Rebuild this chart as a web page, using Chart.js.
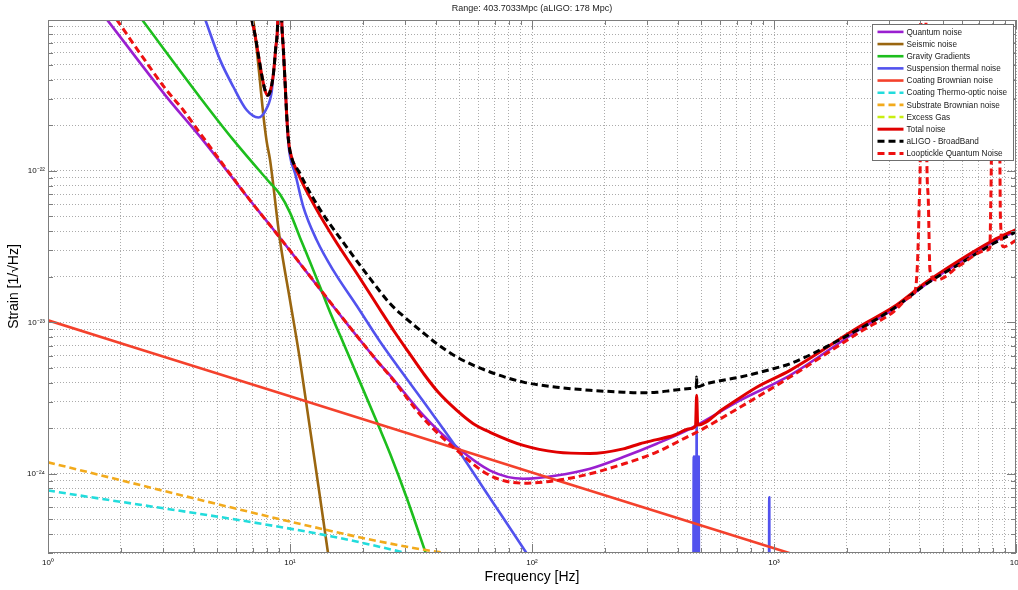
<!DOCTYPE html>
<html>
<head>
<meta charset="utf-8">
<title>Strain noise budget</title>
<script src="https://cdn.jsdelivr.net/npm/chart.js@4/dist/chart.umd.min.js"></script>
<style>
  html, body { margin: 0; padding: 0; background: #ffffff; }
  canvas { display: block; }
</style>
</head>
<body>
<canvas id="noise" width="1018" height="590"></canvas>
<script>
// ---------------- noise curves: [frequency (Hz), strain (1/sqrt(Hz))] ----------------
const quantumNoise = [
  [1.75, 1.0e-21], [3.09, 3.08e-22], [4.25, 1.68e-22], [6.83, 6.4e-23], [8.27, 4.37e-23],
  [22.8, 5.61e-24], [25.9, 4.47e-24], [35.6, 2.43e-24], [48.9, 1.50e-24], [67.1, 1.05e-24],
  [92.1, 9.27e-25], [126.5, 9.75e-25], [173.7, 1.08e-24], [238.4, 1.29e-24], [327.5, 1.58e-24],
  [449.6, 1.98e-24], [723.5, 3.05e-24], [1165, 4.47e-24], [2266, 9.0e-24], [3112, 1.22e-23],
  [4276, 1.80e-23], [5869, 2.50e-23], [8058, 3.40e-23], [10000, 4.00e-23]
];

const seismicNoise = [
  [7.05, 1.0e-21], [7.28, 6.44e-22], [7.52, 3.87e-22], [7.76, 2.33e-22], [8.01, 1.56e-22],
  [8.27, 1.18e-22], [9.09, 3.48e-23], [10.0, 1.40e-23], [11.0, 5.61e-24], [14.4, 2.9e-25]
];

const gravityGradients = [
  [2.44, 1.0e-21], [4.25, 3.05e-22], [5.83, 1.60e-22], [8.12, 8.6e-23], [9.09, 7.0e-23],
  [10.0, 5.3e-23], [11.0, 3.62e-23], [12.1, 2.50e-23], [13.3, 1.72e-23], [14.6, 1.18e-23],
  [16.1, 8.2e-24], [18.0, 5.4e-24], [23.5, 1.98e-24], [25.9, 1.36e-24], [30.4, 6.9e-25],
  [36.7, 2.88e-25]
];

const suspensionThermal = [
  [4.46, 1.0e-21], [5.14, 5.40e-22], [5.83, 3.59e-22], [6.62, 2.52e-22], [7.40, 2.25e-22],
  [8.01, 2.59e-22], [8.40, 3.33e-22], [8.53, 4.30e-22], [8.73, 6.47e-22], [8.90, 1.0e-21],
  [9.05, 5.0e-21], [9.24, 1.0e-21], [9.38, 6.47e-22], [9.54, 3.87e-22], [9.69, 2.33e-22],
  [9.84, 1.56e-22], [10.0, 1.25e-22], [10.5, 9.6e-23], [11.35, 5.78e-23], [12.9, 3.48e-23],
  [15.1, 2.2e-23], [18.9, 1.28e-23], [23.5, 7.5e-24], [35.6, 3.0e-24], [48.9, 1.48e-24],
  [61.0, 8.7e-25], [76.1, 5.1e-25], [96.5, 2.88e-25], [150, 1.0e-25], [300, 2.2e-26],
  // violin modes
  [463, 1.5e-26], [466, 1.3e-24], [468.5, 1.5e-26], [471, 1.3e-24], [473.5, 1.5e-26],
  [476, 1.3e-24], [477.5, 1.5e-26], [479, 2.2e-24], [481, 1.5e-26], [483.5, 1.3e-24],
  [486, 1.5e-26], [488.5, 1.3e-24], [491, 1.5e-26],
  [800, 6e-27], [950, 4e-27], [956, 7.0e-25], [962, 4e-27], [1200, 3e-27]
];

const coatingBrownian = [
  [1, 1.03e-23], [10, 3.25e-24], [100, 1.02e-24], [1000, 3.22e-25], [1300, 2.83e-25]
];

const coatingThermoOptic = [
  [1, 7.76e-25], [14.9, 3.86e-25], [34.7, 2.85e-25]
];

const substrateBrownian = [
  [1, 1.19e-24], [14.9, 4.18e-25], [31.3, 3.27e-25], [53.9, 2.85e-25]
];

const excessGas = [];

const totalNoise = [
  [6.95, 1.0e-21], [7.17, 7.89e-22], [7.40, 5.82e-22], [7.64, 4.30e-22], [7.88, 3.41e-22],
  [8.06, 3.16e-22], [8.27, 3.33e-22], [8.53, 4.30e-22], [8.73, 6.47e-22], [8.90, 1.0e-21],
  [9.05, 5.0e-21], [9.24, 1.0e-21], [9.38, 6.47e-22], [9.54, 3.87e-22], [9.69, 2.33e-22],
  [9.84, 1.64e-22], [10.0, 1.35e-22], [10.8, 9.6e-23], [12.7, 5.78e-23], [15.35, 3.48e-23],
  [18.9, 2.10e-23], [23.5, 1.22e-23], [27.1, 8.6e-24], [31.0, 6.3e-24], [35.6, 4.6e-24],
  [41.0, 3.45e-24], [48.9, 2.62e-24], [57.0, 2.15e-24], [67.1, 1.88e-24], [92.1, 1.54e-24],
  [126.5, 1.39e-24], [173.7, 1.36e-24], [238.4, 1.46e-24], [279.4, 1.58e-24], [327.5, 1.68e-24],
  [383.7, 1.79e-24], [449.6, 1.98e-24], [474, 2.07e-24], [479, 3.3e-24], [484, 2.1e-24],
  [617.4, 2.69e-24], [848.3, 3.73e-24], [1165, 4.82e-24], [2266, 9.42e-24], [3112, 1.26e-23],
  [4276, 1.85e-23], [5869, 2.58e-23], [8058, 3.48e-23], [10000, 4.1e-23]
];

const aligoBroadBand = [
  [6.95, 1.0e-21], [7.17, 7.89e-22], [7.40, 5.82e-22], [7.64, 4.30e-22], [7.88, 3.41e-22],
  [8.06, 3.16e-22], [8.27, 3.33e-22], [8.53, 4.30e-22], [8.73, 6.47e-22], [8.90, 1.0e-21],
  [9.05, 5.0e-21], [9.24, 1.0e-21], [9.38, 6.47e-22], [9.54, 3.87e-22], [9.69, 2.33e-22],
  [9.84, 1.64e-22], [10.0, 1.35e-22], [11.0, 9.6e-23], [13.1, 5.78e-23], [16.35, 3.48e-23],
  [21.4, 1.95e-23], [25.9, 1.33e-23], [29.4, 1.1e-23], [35.6, 8.5e-24], [40.4, 7.23e-24],
  [48.9, 5.9e-24], [67.1, 4.70e-24], [92.1, 4.03e-24], [126.5, 3.73e-24], [173.7, 3.56e-24],
  [238.4, 3.46e-24], [279.4, 3.43e-24], [327.5, 3.45e-24], [383.7, 3.56e-24], [449.6, 3.65e-24],
  [477.5, 3.73e-24], [479, 4.35e-24], [480.5, 3.75e-24], [527, 3.94e-24], [723.5, 4.35e-24],
  [993, 4.94e-24], [1165, 5.33e-24], [2266, 9.08e-24], [3112, 1.23e-23], [4276, 1.80e-23],
  [5869, 2.44e-23], [8058, 3.31e-23], [10000, 3.95e-23]
];

const looptickleQuantum = [
  [1.92, 1.0e-21], [2.40, 5.97e-22], [3.09, 3.41e-22], [3.62, 2.52e-22], [4.25, 1.77e-22],
  [6.83, 6.4e-23], [8.27, 4.37e-23], [22.8, 5.61e-24], [25.9, 4.42e-24], [35.6, 2.32e-24],
  [48.9, 1.43e-24], [67.1, 9.75e-25], [92.1, 8.67e-25], [126.5, 9.04e-25], [173.7, 1.0e-24],
  [238.4, 1.16e-24], [327.5, 1.39e-24], [449.6, 1.79e-24], [479, 1.88e-24], [723.5, 2.75e-24],
  [1165, 4.35e-24], [2266, 8.63e-24], [3112, 1.17e-23], [3648, 1.47e-23], [3763, 1.51e-23],
  [3910, 2.32e-23], [3985, 6.4e-23], [4023, 1.37e-22], [4045, 1.0e-21], [4060, 2.0e-21],
  [4230, 2.0e-21], [4245, 1.0e-21], [4276, 1.37e-22], [4341, 6.4e-23], [4411, 2.2e-23],
  [4702, 1.9e-23], [5869, 2.38e-23], [7568, 2.99e-23], [7800, 3.1e-23], [7850, 5.0e-23],
  [7930, 2.0e-22], [7950, 5.0e-22], [8500, 5.0e-22], [8560, 2.0e-22], [8620, 5.0e-23],
  [8861, 3.15e-23], [10000, 3.48e-23]
];

// ---------------- axes ----------------
const xRange = [1, 1e4];
const yRange = [3e-25, 9.9e-22];
const xLabelValues = [1, 10, 100, 1000, 10000];
const xLabels = ['10\u2070', '10\u00B9', '10\u00B2', '10\u00B3', '10\u2074'];
const yLabelValues = [1e-24, 1e-23, 1e-22];
const yLabels = ['10\u207B\u00B2\u2074', '10\u207B\u00B2\u00B3', '10\u207B\u00B2\u00B2'];

const titleText = 'Range: 403.7033Mpc (aLIGO: 178 Mpc)';
const xTitle = 'Frequency [Hz]';
const yTitle = 'Strain [1/\u221AHz]';

// ---------------- styles ----------------
const FONT = '"Liberation Sans", Arial, Helvetica, sans-serif';
const AXIS_COLOR = '#7d7d7d';
const GRID_COLOR = '#ababab';
const DASH = [7, 4];

const series = [
  { label: 'Quantum noise',              data: quantumNoise,       color: '#9a1fd0', width: 2.6, dash: [] },
  { label: 'Seismic noise',              data: seismicNoise,       color: '#9a6610', width: 2.6, dash: [] },
  { label: 'Gravity Gradients',          data: gravityGradients,   color: '#1dbe1d', width: 2.6, dash: [] },
  { label: 'Suspension thermal noise',   data: suspensionThermal,  color: '#5252ee', width: 2.6, dash: [] },
  { label: 'Coating Brownian noise',     data: coatingBrownian,    color: '#f4412c', width: 2.6, dash: [] },
  { label: 'Coating Thermo-optic noise', data: coatingThermoOptic, color: '#22dcdc', width: 2.6, dash: DASH },
  { label: 'Substrate Brownian noise',   data: substrateBrownian,  color: '#f2aa1c', width: 2.6, dash: DASH },
  { label: 'Excess Gas',                 data: excessGas,          color: '#c8ee10', width: 2.6, dash: DASH },
  { label: 'Total noise',                data: totalNoise,         color: '#e00000', width: 3,   dash: [] },
  { label: 'aLIGO - BroadBand',          data: aligoBroadBand,     color: '#000000', width: 3,   dash: DASH },
  { label: 'Looptickle Quantum Noise',   data: looptickleQuantum,  color: '#ee1111', width: 3,   dash: DASH }
];

// log-axis tick positions: 1..9 x 10^n inside a range
function logTicks(lo, hi) {
  const out = [];
  for (let e = Math.floor(Math.log10(lo)); e <= Math.ceil(Math.log10(hi)); e++) {
    for (let m = 1; m <= 9; m++) {
      const v = m * Math.pow(10, e);
      if (v >= lo * 0.999999 && v <= hi * 1.000001) out.push(v);
    }
  }
  return out;
}
function isDecade(v) {
  const l = Math.log10(v);
  return Math.abs(l - Math.round(l)) < 1e-9;
}
function labelFor(v, values, labels) {
  for (let i = 0; i < values.length; i++) {
    if (Math.abs(Math.log10(v) - Math.log10(values[i])) < 1e-9) return labels[i];
  }
  return '';
}

// frame, inward tick marks and the boxed legend drawn on top of the curves
const framePlugin = {
  id: 'frameAndLegend',
  afterDatasetsDraw(chart) {
    const { ctx, chartArea: a, scales: { x, y } } = chart;
    ctx.save();
    ctx.strokeStyle = AXIS_COLOR;
    ctx.lineWidth = 1;
    ctx.setLineDash([]);
    ctx.beginPath();
    for (const t of x.ticks) {
      const px = Math.round(x.getPixelForValue(t.value)) + 0.5;
      const len = isDecade(t.value) ? 9 : 5;
      ctx.moveTo(px, a.bottom); ctx.lineTo(px, a.bottom - len);
      ctx.moveTo(px, a.top); ctx.lineTo(px, a.top + len);
    }
    for (const t of y.ticks) {
      const py = Math.round(y.getPixelForValue(t.value)) + 0.5;
      const len = isDecade(t.value) ? 9 : 5;
      ctx.moveTo(a.left, py); ctx.lineTo(a.left + len, py);
      ctx.moveTo(a.right, py); ctx.lineTo(a.right - len, py);
    }
    ctx.stroke();
    ctx.strokeRect(Math.round(a.left) + 0.5, Math.round(a.top) + 0.5,
                   Math.round(a.right - a.left) - 1, Math.round(a.bottom - a.top) - 1);

    // legend
    const ds = chart.data.datasets;
    ctx.font = '8.2px ' + FONT;
    let textW = 0;
    for (const d of ds) textW = Math.max(textW, ctx.measureText(d.label).width);
    const sample = 26, gap = 3, padL = 5, padR = 6;
    const rowH = 12.16;
    const w = Math.round(padL + sample + gap + textW + padR);
    const h = Math.round(rowH * (ds.length - 1) + 14.8);
    const bx = Math.round(a.right - 3 - w) + 0.5;
    const by = Math.round(a.top + 4) + 0.5;
    ctx.fillStyle = '#ffffff';
    ctx.fillRect(bx, by, w, h);
    ctx.strokeStyle = '#6f6f6f';
    ctx.lineWidth = 1;
    ctx.strokeRect(bx, by, w, h);
    ctx.textBaseline = 'middle';
    ctx.textAlign = 'left';
    ds.forEach((d, i) => {
      const cy = by + 7.4 + i * rowH;
      ctx.save();
      ctx.beginPath();
      ctx.strokeStyle = d.borderColor;
      ctx.lineWidth = d.borderWidth;
      ctx.setLineDash(d.borderDash || []);
      ctx.moveTo(bx + padL, cy);
      ctx.lineTo(bx + padL + sample, cy);
      ctx.stroke();
      ctx.restore();
      ctx.fillStyle = '#1a1a1a';
      ctx.fillText(d.label, bx + padL + sample + gap, cy + 0.5);
    });
    ctx.restore();
  }
};

const datasets = series.map((s, i) => ({
  label: s.label,
  data: s.data.map(p => ({ x: p[0], y: p[1] })),
  borderColor: s.color,
  backgroundColor: s.color,
  borderWidth: s.width,
  borderDash: s.dash,
  borderCapStyle: 'butt',
  borderJoinStyle: 'round',
  showLine: true,
  fill: false,
  pointRadius: 0,
  pointHoverRadius: 0,
  cubicInterpolationMode: 'monotone',
  clip: 0,
  order: series.length - i
}));

new Chart(document.getElementById('noise').getContext('2d'), {
  type: 'scatter',
  data: { datasets },
  options: {
    responsive: false,
    animation: false,
    events: [],
    layout: { padding: { top: 0, right: 2, bottom: 0, left: 0 } },
    plugins: {
      legend: { display: false },
      tooltip: { enabled: false },
      title: {
        display: true,
        text: titleText,
        fullSize: false,
        color: '#222222',
        font: { family: FONT, size: 9, weight: 'normal', lineHeight: 1 },
        padding: { top: 4, bottom: 7 }
      }
    },
    scales: {
      x: {
        type: 'logarithmic',
        min: xRange[0],
        max: xRange[1],
        afterBuildTicks: s => { s.ticks = logTicks(xRange[0], xRange[1]).map(v => ({ value: v, major: isDecade(v) })); },
        afterFit: s => { s.height = 37; s.paddingLeft = 0; s.paddingRight = 0; },
        grid: { color: GRID_COLOR, lineWidth: 1, drawTicks: false },
        border: { display: false, dash: [1, 2] },
        ticks: {
          autoSkip: false, maxRotation: 0, minRotation: 0, padding: 5,
          color: '#111111', font: { family: FONT, size: 8 },
          callback: v => labelFor(v, xLabelValues, xLabels)
        },
        title: {
          display: true, text: xTitle, color: '#000000',
          font: { family: FONT, size: 14, lineHeight: 1.2 },
          padding: { top: 0, bottom: 4 }
        }
      },
      y: {
        type: 'logarithmic',
        min: yRange[0],
        max: yRange[1],
        afterBuildTicks: s => { s.ticks = logTicks(yRange[0], yRange[1]).map(v => ({ value: v, major: isDecade(v) })); },
        afterFit: s => { s.width = 48; s.paddingTop = 0; s.paddingBottom = 0; },
        grid: { color: GRID_COLOR, lineWidth: 1, drawTicks: false },
        border: { display: false, dash: [1, 2] },
        ticks: {
          autoSkip: false, padding: 3,
          color: '#111111', font: { family: FONT, size: 8 },
          callback: v => labelFor(v, yLabelValues, yLabels)
        },
        title: {
          display: true, text: yTitle, color: '#000000',
          font: { family: FONT, size: 14, lineHeight: 1.2 },
          padding: { top: 5.5, bottom: 0 }
        }
      }
    }
  },
  plugins: [framePlugin]
});
</script>
</body>
</html>
